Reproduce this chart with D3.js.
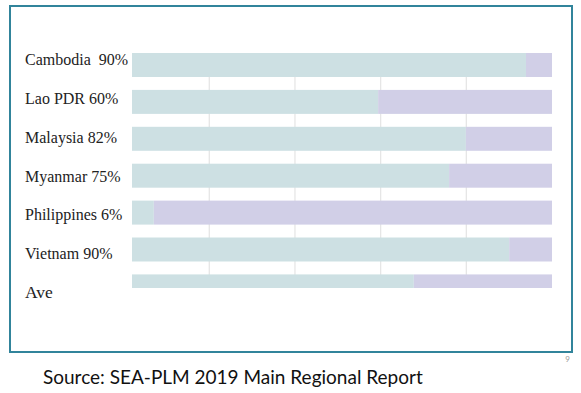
<!DOCTYPE html>
<html>
<head>
<meta charset="utf-8">
<script src="https://cdn.jsdelivr.net/npm/d3@7"></script>
<style>
  html, body { margin: 0; padding: 0; background: #ffffff; }
  svg { display: block; }
</style>
</head>
<body>
<svg id="chart" width="581" height="393"></svg>
<script>
// ---- data ----
const categories = ["Cambodia", "Lao PDR", "Malaysia", "Myanmar", "Philippines", "Vietnam", "Ave"];
const labels = ["Cambodia  90%", "Lao PDR 60%", "Malaysia 82%", "Myanmar 75%", "Philippines 6%", "Vietnam 90%", "Ave"];
const yesValues = [93.8, 58.6, 79.5, 75.5, 5.2, 89.8, 67.1];
const noValues  = [6.2, 41.4, 20.5, 24.5, 94.8, 10.2, 32.9];
const gridTicks = [18.4, 38.8, 59.2, 79.6];
const sourceText = "Source: SEA-PLM 2019 Main Regional Report";
const pageNumber = "9";

// ---- layout ----
const svg = d3.select("#chart");
const colors = { yes: "#cde0e3", no: "#d1cfe7" };

// frame
svg.append("rect")
  .attr("x", 10).attr("y", 6)
  .attr("width", 562).attr("height", 346)
  .attr("fill", "#fff")
  .attr("stroke", "#31849b")
  .attr("stroke-width", 2);

const x = d3.scaleLinear().domain([0, 100]).range([132, 552]);
const y = d3.scaleBand().domain(categories).range([53, 298.4]).paddingInner(0.35).paddingOuter(0);
const yLab = d3.scalePoint().domain(categories).range([65, 298]);

const plotTop = 53, plotBottom = 288;

svg.append("defs").append("clipPath").attr("id", "plotClip")
  .append("rect").attr("x", x(0)).attr("y", plotTop)
  .attr("width", x(100) - x(0)).attr("height", plotBottom - plotTop);

const plot = svg.append("g").attr("clip-path", "url(#plotClip)");

// gridlines
plot.append("g").selectAll("line").data(gridTicks).join("line")
  .attr("x1", d => x(d)).attr("x2", d => x(d))
  .attr("y1", plotTop).attr("y2", plotBottom)
  .attr("stroke", "#e6e6e6").attr("stroke-width", 1.3);

// stacked bars
const rows = categories.map((c, i) => ({ cat: c, yes: yesValues[i], no: noValues[i] }));
const stack = d3.stack().keys(["yes", "no"])(rows);

plot.append("g").selectAll("g").data(stack).join("g")
  .attr("fill", d => colors[d.key])
  .selectAll("rect").data(d => d).join("rect")
  .attr("x", d => x(d[0]))
  .attr("y", d => y(d.data.cat))
  .attr("width", d => x(d[1]) - x(d[0]))
  .attr("height", y.bandwidth());

// labels
svg.append("g").selectAll("text").data(categories).join("text")
  .attr("x", 25)
  .attr("y", d => yLab(d))
  .attr("font-family", "'Liberation Serif', 'DejaVu Serif', serif")
  .attr("font-size", d => d === "Ave" ? 17.5 : 16)
  .attr("fill", "#222")
  .attr("xml:space", "preserve")
  .style("white-space", "pre")
  .text((d, i) => labels[i]);

// page number
svg.append("text")
  .attr("x", 570).attr("y", 362)
  .attr("text-anchor", "end")
  .attr("font-family", "Lato, 'Open Sans', sans-serif")
  .attr("font-size", 8)
  .attr("fill", "#9a9a9a")
  .text(pageNumber);

// source
svg.append("text")
  .attr("x", 43).attr("y", 384)
  .attr("font-family", "Lato, 'Open Sans', sans-serif")
  .attr("font-size", 19)
  .attr("fill", "#111")
  .text(sourceText);
</script>
</body>
</html>
